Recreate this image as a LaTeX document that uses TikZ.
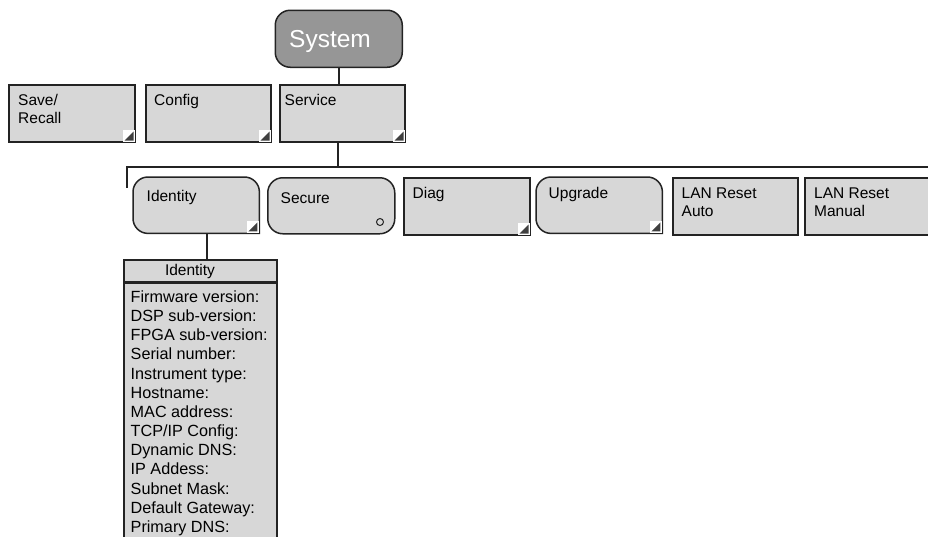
\documentclass[tikz,border=0pt]{standalone}
\usepackage{fontspec}
\setmainfont{Liberation Sans}
\definecolor{lineC}{RGB}{35,35,35}
\definecolor{keyC}{RGB}{215,215,215}
\definecolor{sysC}{RGB}{150,150,150}
\definecolor{markC}{RGB}{64,64,64}
\newcommand\keymark[1]{%
  \fill[white] ([xshift=-12.5pt,yshift=12.5pt]#1.south east) rectangle ([xshift=-0.75pt,yshift=0.75pt]#1.south east);
  \fill[markC] ([xshift=-11pt,yshift=2pt]#1.south east) -- ([xshift=-2pt,yshift=2pt]#1.south east) -- ([xshift=-2pt,yshift=11pt]#1.south east) -- cycle;}
\begin{document}
\begin{tikzpicture}[x=1pt,y=-1pt,
  conn/.style={draw=lineC, line width=1.5pt},
  keybox/.style={rectangle, draw=lineC, line width=1.5pt, fill=keyC, inner sep=0pt, anchor=north west},
  keyframe/.style={rectangle, inner sep=0pt, anchor=north west},
  keytext/.style={anchor=base west, inner sep=0pt, font=\fontsize{15.5}{18}\selectfont},
  listtext/.style={anchor=base west, inner sep=0pt, font=\fontsize{16.2}{19}\selectfont},
]
\clip (0,0) rectangle (928,536);
\fill[white] (0,0) rectangle (928,536);

% System
\node[keybox, fill=sysC, rounded corners=15pt, minimum width=127pt, minimum height=57pt] (sys) at (274.5,9.5) {};
\node[anchor=base west, inner sep=0pt, text=white, font=\fontsize{24.5}{28}\selectfont] (systxt) at (289,47.3) {System};

% first row
\node[keybox, minimum width=126pt, minimum height=57pt] (save) at (8,84) {};
\node[keybox, minimum width=125pt, minimum height=57pt] (cfg) at (145,84) {};
\node[keybox, minimum width=125pt, minimum height=57pt] (svc) at (279,84) {};
\keymark{save}\keymark{cfg}\keymark{svc}
\node[keytext] (saveT1) at (18,105.5) {Save/};
\node[keytext] (saveT2) at (18,123) {Recall};
\node[keytext] (cfgT) at (154,105.5) {Config};
\node[keytext] (svcT) at (284.5,105.5) {Service};

\draw[conn] (sys.south) -- (sys.south |- svc.north);

% bus
\coordinate (bj) at (338,167);
\coordinate (bl) at (127,167);
\coordinate (bld) at (127,187.5);
\coordinate (br) at (930,167);
\draw[conn] (svc.south -| bj) -- (bj);
\draw[conn] (bld) -- (bl) -- (br);

% second row
\node[keyframe, minimum width=126pt, minimum height=56pt] (idn) at (133,177) {};
\draw[conn, fill=keyC] (idn.east) [rounded corners=15pt] -- (idn.north east) -- (idn.north west) -- (idn.south west) -- (idn.south) [sharp corners] -- (idn.south east) -- cycle;
\keymark{idn}
\node[keybox, rounded corners=15pt, minimum width=127pt, minimum height=56pt] (sec) at (267,177) {};
\node[circle, draw=lineC, fill=keyC, line width=1pt, inner sep=0pt, minimum size=7pt] (secmark) at (380,222) {};
\node[keybox, minimum width=126pt, minimum height=57pt] (diag) at (403,177) {};
\keymark{diag}
\node[keyframe, minimum width=126pt, minimum height=56pt] (upg) at (536,177) {};
\draw[conn, fill=keyC] (upg.east) [rounded corners=15pt] -- (upg.north east) -- (upg.north west) -- (upg.south west) -- (upg.south) [sharp corners] -- (upg.south east) -- cycle;
\keymark{upg}
\node[keybox, minimum width=125pt, minimum height=57pt] (lana) at (672,177) {};
\node[keybox, minimum width=130pt, minimum height=57pt] (lanm) at (804,177) {};

\node[keytext] (idnT) at (146.5,201.5) {Identity};
\node[keytext] (secT) at (280.5,203) {Secure};
\node[keytext] (diagT) at (412.5,198) {Diag};
\node[keytext] (upgT) at (548.5,198) {Upgrade};
\node[keytext] (lanaT1) at (681.5,198) {LAN Reset};
\node[keytext] (lanaT2) at (681.5,216.5) {Auto};
\node[keytext] (lanmT1) at (814,198) {LAN Reset};
\node[keytext] (lanmT2) at (814,216.5) {Manual};

% identity panel
\node[keybox, minimum width=153pt, minimum height=265pt] (pbody) at (123,281) {};
\node[keybox, line width=1.5pt, minimum width=153pt, minimum height=22pt] (phead) at (123,259) {};
\draw[draw=lineC, line width=2.2pt] (phead.south west) -- (phead.south east);
\node[anchor=base, inner sep=0pt, font=\fontsize{15.5}{18}\selectfont] (pheadT) at (190,275) {Identity};
\draw[conn] ([xshift=11pt]idn.south) -- ([xshift=11pt]idn.south |- phead.north);

\foreach \t [count=\i] in {Firmware version:, DSP sub-version:, FPGA sub-version:, Serial number:, Instrument type:, Hostname:, MAC address:, TCP/IP Config:, Dynamic DNS:, IP Addess:, Subnet Mask:, Default Gateway:, Primary DNS:}
  \node[listtext] (item\i) at (130.5,{302.5+(\i-1)*19.15}) {\t};
\end{tikzpicture}
\end{document}
